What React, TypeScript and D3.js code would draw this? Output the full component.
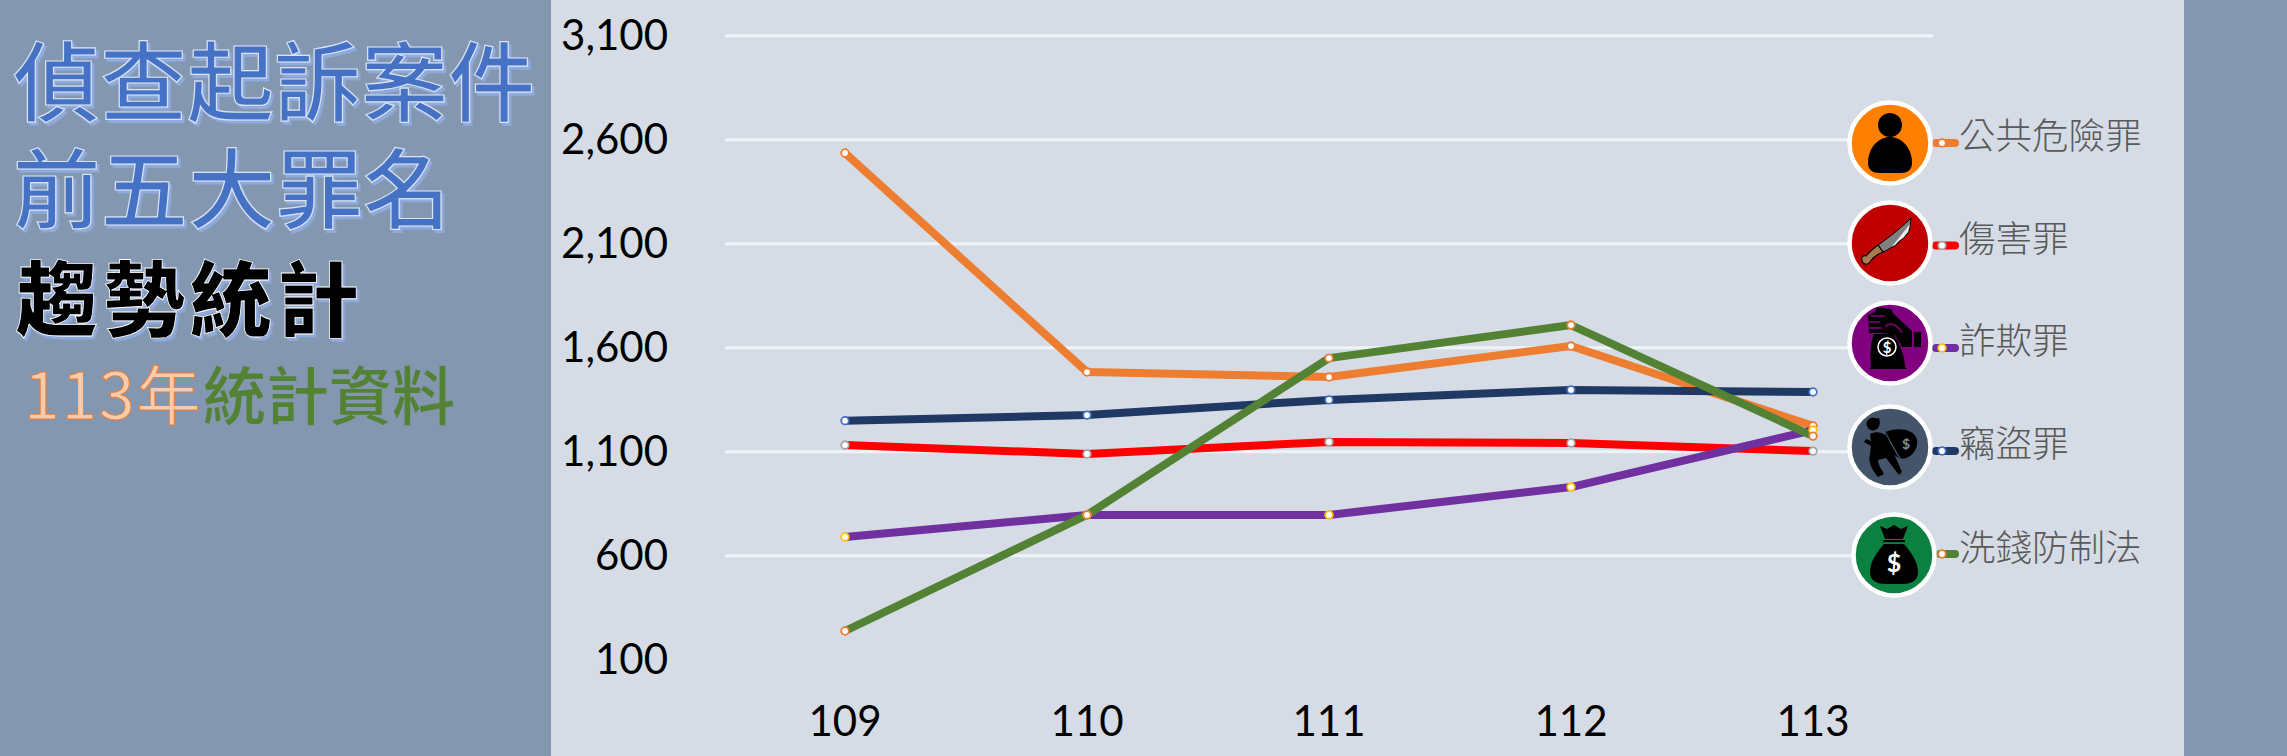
import React from "react";
import * as d3 from "d3";

const years = ["109", "110", "111", "112", "113"];
const yTicks = [100, 600, 1100, 1600, 2100, 2600, 3100];
const seriesNames = ["公共危險罪", "傷害罪", "詐欺罪", "竊盜罪", "洗錢防制法"];
const publicDanger = [2536, 1483, 1459, 1608, 1224];
const assault = [1132, 1089, 1147, 1142, 1103];
const fraud = [690, 796, 796, 930, 1204];
const theft = [1249, 1276, 1349, 1397, 1387];
const laundering = [238, 796, 1550, 1709, 1175];
const seriesValues = [publicDanger, assault, fraud, theft, laundering];

const lineColors = ["#ED7D31", "#FF0000", "#7030A0", "#1F3864", "#548235"];
const markerColors = ["#ED7D31", "#A5A5A5", "#FFC000", "#4472C4", "#ED7D31"];
const badgeColors = ["#FF8000", "#C00000", "#800080", "#44546A", "#0B8040"];
const badgeX = [1890, 1890, 1890, 1890, 1894];
const badgeY = [143, 243, 343, 447, 555];
const keyY = [143, 245.5, 348, 451, 554];
const labelY = [133.5, 236, 338, 441, 545];
const keyStart = [1936, 1936, 1936, 1936, 1940];

const x = d3.scalePoint<string>().domain(years).range([845, 1813]);
const y = d3.scaleLinear().domain([100, 3100]).range([659.7, 35.7]);
const fmt = d3.format(",");
const CJK = "'Noto Sans CJK TC','Noto Sans CJK SC',sans-serif";
const NUM = "Lato,'Noto Sans',sans-serif";

function Person() {
  return (
    <g fill="#000">
      <circle cx={0} cy={-18} r={12} />
      <path d="M-22,20 C-22,4 -11,-6 0,-6 C11,-6 22,4 22,20 C22,27 17,30 11,30 H-11 C-17,30 -22,27 -22,20Z" />
    </g>
  );
}
function Knife() {
  return (
    <g>
      <path d="M21,-25 C14,-18 0,-6 -12,2 L-7,9 C-3,8 -1,5 3,4 C7,3 7,-1 11,-3 C15,-5 15,-8 18,-10 C20,-12 20,-18 21,-25Z" fill="#7F7F7F" stroke="#000" strokeWidth={1} />
      <path d="M20,-19 L18,-11 C15,-8 14,-5 10,-3 C7,-1 6,2 2,3 C7,-2 14,-12 20,-19Z" fill="#FFF" opacity={0.85} />
      <path d="M-12,2 L-7,9 C-12,11 -17,14 -20,19 C-23,23 -27,21 -28,18 C-29,14 -27,12 -24,13 C-20,8 -16,5 -12,2Z" fill="#A97B50" stroke="#000" strokeWidth={1.2} />
    </g>
  );
}
function HandBag() {
  return (
    <g>
      <path d="M-21,-10 L-22,-28 L-15,-31 L-13,-36 L1,-34 L3,-30 L8,-25 L22,-12 L22,4 L12,4 L5,-8 L-8,-10 Z" fill="#000" />
      <path d="M-21,-21 H-10 M-21,-15 H-8 M-19,-27 H-5 M-5,-16 C0,-22 8,-18 12,-10" stroke="#800080" strokeWidth={1.5} fill="none" />
      <rect x={24} y={-11} width={7} height={15} fill="#000" />
      <path d="M-16,-9 H3 C9,-2 15,14 15,24 L17,26 H-21 L-19,24 C-20,12 -20,0 -16,-9Z" fill="#000" />
      <circle cx={-3} cy={4} r={9} fill="#000" stroke="#FFF" strokeWidth={1.5} />
      <text x={-3} y={9.5} fontSize={15} fontWeight={700} fill="#FFF" textAnchor="middle" fontFamily={NUM}>$</text>
    </g>
  );
}
function Thief() {
  return (
    <g>
      <circle cx={-17} cy={-23} r={6.5} fill="#000" />
      <path d="M-23,-26 L-11,-29 L-10,-24 L-20,-21Z" fill="#000" />
      <path d="M-5,-15 C6,-20 25,-19 27,-7 C29,4 18,14 9,11 C0,7 -5,-6 -5,-15Z" fill="#000" />
      <path d="M-20,-13 C-12,-17 -4,-14 -1,-6 C2,1 3,6 5,9 L12,25 L9,28 L-4,11 L-12,13 C-12,18 -8,23 -6,27 L-12,30 C-19,22 -22,14 -20,7 L-19,-1 L-26,-5 L-24,-8 L-19,-6Z" fill="#000" />
      <path d="M-5,-15 C0,-7 4,3 10,11" stroke="#44546A" strokeWidth={1.2} fill="none" />
      <text x={16} y={2} fontSize={14} fontWeight={700} fill="#7F8C9F" textAnchor="middle" fontFamily={NUM}>$</text>
    </g>
  );
}
function MoneyBag() {
  return (
    <g>
      <path d="M-14,-29 L-7,-26 L0,-30 L7,-26 L14,-29 L9,-16 H-9Z" fill="#000" />
      <rect x={-11} y={-15} width={22} height={2.2} fill="#000" />
      <path d="M-10,-11 H10 C17,-3 24,7 24,17 C24,26 17,29 8,29 H-8 C-17,29 -24,26 -24,17 C-24,7 -17,-3 -10,-11Z" fill="#000" />
      <text x={0} y={17} fontSize={25} fontWeight={700} fill="#FFF" textAnchor="middle" fontFamily={NUM}>$</text>
    </g>
  );
}
const icons = [Person, Knife, HandBag, Thief, MoneyBag];

export default function App() {
  const line = d3
    .line<number>()
    .x((_, i) => x(years[i]) as number)
    .y((d) => y(d));
  return (
    <svg width={2287} height={756} viewBox="0 0 2287 756" style={{ position: "absolute", left: 0, top: 0, display: "block" }}>
      <defs>
        <filter id="shadowBlue" x="-5%" y="-5%" width="110%" height="115%">
          <feDropShadow dx={2.5} dy={3} stdDeviation={0.6} floodColor="#8FAADC" />
        </filter>
      </defs>
      <rect width={2287} height={756} fill="#8497B0" />
      <rect x={551} width={1633} height={756} fill="#D6DCE5" />

      {/* titles */}
      <g fontFamily={CJK} filter="url(#shadowBlue)">
        <text x={13} y={115} fontSize={87} fontWeight={500} fill="#4472C4" stroke="#DAE3F3" strokeWidth={1.2}>偵查起訴案件</text>
        <text x={13} y={222} fontSize={87.5} fontWeight={500} fill="#4472C4" stroke="#DAE3F3" strokeWidth={1.2}>前五大罪名</text>
        <text x={16} y={330} fontSize={82} fontWeight={900} letterSpacing={5} fill="#000" stroke="#FFF" strokeWidth={0.8}>趨勢統計</text>
      </g>
      <text x={24} y={419} fontSize={64} letterSpacing={2} fontFamily={CJK} fill="#F8CBAD" stroke="#ED7D31" strokeWidth={1}>113年</text>
      <text x={203} y={419} fontSize={63} fontFamily={CJK} fontWeight={500} fill="#548235">統計資料</text>

      {/* grid */}
      {yTicks.map((t) => (
        <line key={t} x1={725} x2={1933} y1={y(t)} y2={y(t)} stroke={t === 100 ? "#D7DDE6" : "#F0F3F8"} strokeWidth={3} />
      ))}

      {/* axis labels */}
      {yTicks.map((t) => (
        <text key={t} x={668} y={y(t) + 14} fontSize={42} fontFamily={NUM} textAnchor="end" fill="#000">{fmt(t)}</text>
      ))}
      {years.map((yr) => (
        <text key={yr} x={x(yr)} y={736} fontSize={42} fontFamily={NUM} textAnchor="middle" fill="#000">{yr}</text>
      ))}

      {/* series */}
      {seriesValues.map((vals, s) => (
        <path key={s} d={line(vals) ?? ""} fill="none" stroke={lineColors[s]} strokeWidth={8} strokeLinejoin="round" />
      ))}
      {seriesValues.map((vals, s) =>
        vals.map((v, i) => (
          <circle key={`${s}-${i}`} cx={x(years[i])} cy={y(v)} r={3.8} fill="#FFF" stroke={markerColors[s]} strokeWidth={1.8} />
        ))
      )}

      {/* legend */}
      {seriesNames.map((name, s) => {
        const Icon = icons[s];
        return (
          <g key={name}>
            <line x1={keyStart[s]} x2={1955} y1={keyY[s]} y2={keyY[s]} stroke={lineColors[s]} strokeWidth={8} strokeLinecap="round" />
            <circle cx={1942} cy={keyY[s]} r={3.8} fill="#FFF" stroke={markerColors[s]} strokeWidth={1.8} />
            <text x={1959} y={labelY[s]} fontSize={36.5} fontFamily={CJK} fontWeight={300} fill="#595959" dominantBaseline="central">{name}</text>
            <g transform={`translate(${badgeX[s]},${badgeY[s]})`}>
              <circle r={40.5} fill={badgeColors[s]} stroke="#FFF" strokeWidth={4.5} />
              <Icon />
            </g>
          </g>
        );
      })}
    </svg>
  );
}
